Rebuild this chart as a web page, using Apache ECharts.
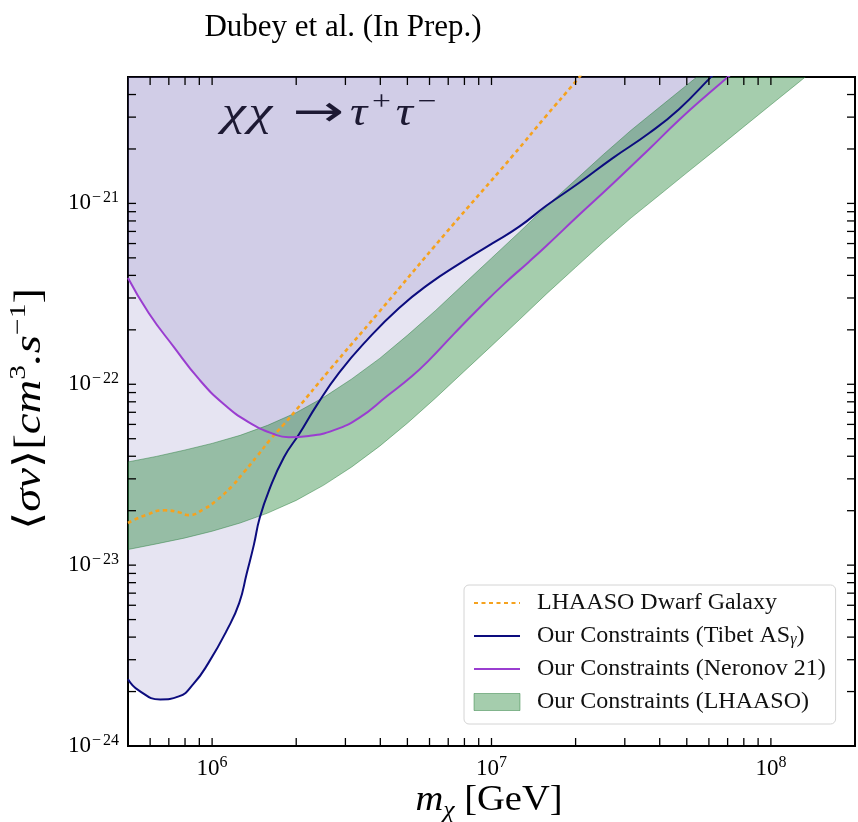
<!DOCTYPE html>
<html>
<head>
<meta charset="utf-8">
<title>Dubey et al. (In Prep.)</title>
<script src="https://cdn.jsdelivr.net/npm/echarts@6.0.0/dist/echarts.min.js"></script>
<style>
  html, body { margin: 0; padding: 0; background: #ffffff; }
  #chart { width: 858px; height: 822px; }
</style>
</head>
<body>
<div id="chart"></div>
<script>
// ---- LHAASO dwarf galaxy limit (dotted orange), <σv> in cm^3/s ----
const dwarfMass  = [5e5, 5.78e5, 6.76e5, 7.6e5, 8.24e5, 9.33e5, 1.04e6, 1.18e6, 1.30e6, 1.45e6, 1.61e6, 1.81e6,
                    2.0e6, 2.62e6, 3.96e6, 6.87e6, 1.19e7, 1.57e7, 2.01e7, 2.15e7];
const dwarfSigma = [1.71e-23, 1.89e-23, 2.01e-23, 1.96e-23, 1.89e-23, 2.04e-23, 2.29e-23, 2.74e-23, 3.27e-23, 4.01e-23, 4.92e-23, 6.03e-23,
                    7.21e-23, 1.19e-22, 2.51e-22, 6.87e-22, 1.83e-21, 3.05e-21, 4.76e-21, 5.42e-21];

// ---- Tibet AS-gamma constraint (navy) ----
const tibetMass  = [5e5, 5.46e5, 6.52e5, 7.6e5, 8.59e5, 9.73e5, 1.13e6, 1.25e6, 1.33e6, 1.41e6, 1.48e6, 1.60e6,
                    1.81e6, 2.05e6, 2.37e6, 2.85e6, 3.59e6, 4.67e6, 5.98e6, 7.66e6, 1.007e7, 1.26e7, 1.57e7,
                    2.06e7, 2.70e7, 3.67e7, 4.70e7, 6.11e7, 6.53e7];
const tibetSigma = [2.34e-24, 2.03e-24, 1.81e-24, 1.88e-24, 2.21e-24, 2.90e-24, 4.37e-24, 6.17e-24, 8.99e-24, 1.29e-23, 1.82e-23, 2.60e-23,
                    3.96e-23, 5.31e-23, 7.67e-23, 1.16e-22, 1.76e-22, 2.64e-22, 3.59e-22, 4.63e-22, 6.01e-22, 7.46e-22, 9.70e-22,
                    1.30e-21, 1.77e-21, 2.45e-21, 3.33e-21, 5.01e-21, 5.56e-21];

// ---- Neronov 21 constraint (purple) ----
const neronovMass  = [5e5, 5.93e5, 7.29e5, 8.96e5, 1.10e6, 1.35e6, 1.66e6, 1.88e6, 2.22e6, 2.73e6, 3.36e6, 4.23e6,
                      5.20e6, 5.98e6, 7.34e6, 9.04e6, 1.11e7, 1.36e7, 1.57e7, 2.06e7, 2.71e7, 3.67e7, 4.70e7,
                      6.03e7, 7.10e7, 7.73e7];
const neronovSigma = [3.87e-22, 2.48e-22, 1.61e-22, 1.07e-22, 7.78e-23, 6.18e-23, 5.31e-23, 5.10e-23, 5.18e-23, 5.58e-23, 6.52e-23, 8.61e-23,
                      1.11e-22, 1.36e-22, 1.90e-22, 2.64e-22, 3.59e-22, 4.75e-22, 5.82e-22, 8.65e-22, 1.28e-21, 2.00e-21, 2.90e-21,
                      4.09e-21, 5.08e-21, 5.70e-21];

// ---- LHAASO band (upper / lower edge) ----
const bandMass    = [5e5, 6.31e5, 7.94e5, 1e6, 1.26e6, 1.58e6, 2e6, 2.51e6, 3.16e6, 3.98e6, 5.01e6, 6.31e6, 7.94e6,
                     1e7, 1.26e7, 1.58e7, 2e7, 2.51e7, 3.16e7, 3.98e7, 5.01e7, 6.31e7, 7.94e7, 1e8, 1.26e8, 1.58e8];
const lhaasoLower = [1.22e-23, 1.31e-23, 1.41e-23, 1.54e-23, 1.71e-23, 1.94e-23, 2.28e-23, 2.77e-23, 3.49e-23, 4.55e-23, 6.11e-23, 8.40e-23, 1.17e-22,
                     1.63e-22, 2.28e-22, 3.18e-22, 4.43e-22, 6.10e-22, 8.32e-22, 1.109e-21, 1.48e-21, 1.97e-21, 2.63e-21, 3.51e-21, 4.68e-21, 6.24e-21];
const lhaasoUpper = [3.72e-23, 3.99e-23, 4.32e-23, 4.71e-23, 5.22e-23, 5.93e-23, 6.97e-23, 8.47e-23, 1.07e-22, 1.39e-22, 1.87e-22, 2.56e-22, 3.57e-22,
                     4.98e-22, 6.95e-22, 9.71e-22, 1.35e-21, 1.86e-21, 2.54e-21, 3.39e-21, 4.52e-21, 6.03e-21];

// ---- axis ranges and tick values ----
const massRange  = [5e5, 2e8];
const sigmaRange = [1e-24, 5e-21];
const xMajorTicks = [1e6, 1e7, 1e8];
const xMinorTicks = [6e5, 7e5, 8e5, 9e5,
                     2e6, 3e6, 4e6, 5e6, 6e6, 7e6, 8e6, 9e6,
                     2e7, 3e7, 4e7, 5e7, 6e7, 7e7, 8e7, 9e7];
const yMajorTicks = [1e-23, 1e-22, 1e-21];
const yMinorTicks = [2e-24, 3e-24, 4e-24, 5e-24, 6e-24, 7e-24, 8e-24, 9e-24,
                     2e-23, 3e-23, 4e-23, 5e-23, 6e-23, 7e-23, 8e-23, 9e-23,
                     2e-22, 3e-22, 4e-22, 5e-22, 6e-22, 7e-22, 8e-22, 9e-22,
                     2e-21, 3e-21, 4e-21];

// The y axis works in units of 1e-24 cm^3/s: ECharts rounds very small
// numbers to zero on log axes, so values are rescaled before plotting.
const SIGMA_UNIT_EXP = -24;
const SIGMA_UNIT = 1e-24;
const toAxis = s => s / SIGMA_UNIT;

const NAME_DWARF   = 'LHAASO Dwarf Galaxy';
const NAME_TIBET   = 'Our Constraints (Tibet ASγ)';
const NAME_NERONOV = 'Our Constraints (Neronov 21)';
const NAME_LHAASO  = 'Our Constraints (LHAASO)';

const SERIF = '"Liberation Serif", "DejaVu Serif", serif';
const LAVENDER = 'rgba(100, 88, 175, 0.16)';
const BAND_FILL = 'rgba(30, 130, 50, 0.40)';
const BAND_EDGE = 'rgba(30, 120, 50, 0.45)';
const TICK_LEN = 8;
const SMOOTH = 0.5;

const pairs = (xs, ys) => ys.map((y, i) => [xs[i], toAxis(y)]);

function powText(e) {
  if (e < 0) return '{b|10}{m|\u2212}{s|' + Math.abs(e) + '}';
  return '{b|10}{s|' + e + '}';
}
const powRich = {
  b: { fontFamily: SERIF, fontSize: 23, lineHeight: 27, color: '#000' },
  m: { fontFamily: SERIF, fontSize: 16, color: '#000', verticalAlign: 'top', padding: [0, 2, 0, 1] },
  s: { fontFamily: SERIF, fontSize: 16, color: '#000', verticalAlign: 'top' }
};

const chart = echarts.init(document.getElementById('chart'), null, { renderer: 'canvas' });

const tickStyle = { stroke: '#000', lineWidth: 1.3 };
const lineLegendStyle = { color: 'rgba(0,0,0,0)', borderWidth: 0, opacity: 0 };

const option = {
  animation: false,
  backgroundColor: '#ffffff',
  grid: {
    left: 128, right: 3, top: 77, bottom: 76,
    show: true, borderColor: '#000', borderWidth: 2, backgroundColor: 'transparent'
  },
  xAxis: {
    type: 'log', logBase: 10, min: massRange[0], max: massRange[1],
    axisLine: { show: false }, axisTick: { show: false }, splitLine: { show: false },
    axisLabel: {
      formatter: v => powText(Math.round(Math.log10(v))),
      rich: powRich, margin: 9, showMinLabel: false, showMaxLabel: false
    }
  },
  yAxis: {
    type: 'log', logBase: 10, min: toAxis(sigmaRange[0]), max: toAxis(sigmaRange[1]),
    axisLine: { show: false }, axisTick: { show: false }, splitLine: { show: false },
    axisLabel: {
      formatter: v => powText(Math.round(Math.log10(v)) + SIGMA_UNIT_EXP),
      rich: powRich, margin: 9, showMinLabel: true, showMaxLabel: false
    }
  },
  legend: {
    orient: 'vertical', left: 464, top: 585,
    padding: [6, 10, 10, 9],
    itemWidth: 46, itemHeight: 17, itemGap: 9,
    selectedMode: false,
    backgroundColor: 'rgba(255,255,255,0.85)',
    borderColor: '#d4d4d4', borderWidth: 1, borderRadius: 5,
    data: [
      { name: NAME_DWARF, itemStyle: lineLegendStyle },
      { name: NAME_TIBET, itemStyle: lineLegendStyle },
      { name: NAME_NERONOV, itemStyle: lineLegendStyle },
      { name: NAME_LHAASO, icon: 'rect',
        itemStyle: { color: BAND_FILL, borderColor: BAND_EDGE, borderWidth: 1 } }
    ],
    formatter: function (name) {
      if (name === NAME_TIBET) return '{t|Our Constraints (Tibet AS}{g|γ}{t|)}';
      return '{t|' + name + '}';
    },
    textStyle: {
      fontFamily: SERIF, fontSize: 24, lineHeight: 24, color: '#111',
      padding: [0, 0, 0, 12],
      rich: {
        t: { fontFamily: SERIF, fontSize: 24, lineHeight: 24, color: '#111' },
        g: { fontFamily: SERIF, fontSize: 16, fontStyle: 'italic', color: '#111', verticalAlign: 'bottom' }
      }
    }
  },
  graphic: [
    {
      type: 'text', silent: true,
      style: { text: 'Dubey et al. (In Prep.)', x: 343, y: 28, align: 'center', verticalAlign: 'middle',
               font: '31px "Liberation Serif", serif', fill: '#000' }
    },
    // process label: χχ → τ+τ−
    {
      type: 'group', silent: true, z: 20,
      children: [
        {
          type: 'text', x: 222, y: 114, scaleX: 1.35,
          style: {
            text: '{i|χ}{i|χ}', x: 0, y: 0, align: 'left', verticalAlign: 'middle',
            rich: { i: { fontFamily: SERIF, fontStyle: 'italic', fontSize: 40, lineHeight: 50, fill: '#000', padding: [0, 2, 0, 0] } }
          }
        },
        {
          type: 'text', x: 318, y: 115, scaleX: 1.4,
          style: { text: '→', x: 0, y: 0, align: 'center', verticalAlign: 'middle',
                   font: '44px "DejaVu Sans", sans-serif', fill: '#000' }
        },
        {
          type: 'text', x: 350, y: 114, scaleX: 1.2,
          style: {
            text: '{t|τ}{s|+}{t|τ}{s|\u2212}', x: 0, y: 0, align: 'left', verticalAlign: 'middle',
            rich: {
              t: { fontFamily: SERIF, fontStyle: 'italic', fontSize: 40, lineHeight: 50, fill: '#000', padding: [0, 2, 0, 0] },
              s: { fontFamily: SERIF, fontSize: 28, fill: '#000', verticalAlign: 'top', padding: [0, 4, 0, 2] }
            }
          }
        }
      ]
    },
    {
      type: 'text', silent: true,
      x: 489, y: 801, scaleX: 1.07,
      style: {
        text: '{i|m}{u|χ}{n| [GeV]}',
        x: 0, y: 0, align: 'center', verticalAlign: 'middle',
        rich: {
          i: { fontFamily: SERIF, fontStyle: 'italic', fontSize: 36, lineHeight: 44, fill: '#000' },
          u: { fontFamily: SERIF, fontStyle: 'italic', fontSize: 24, fill: '#000', verticalAlign: 'bottom' },
          n: { fontFamily: SERIF, fontSize: 36, lineHeight: 44, fill: '#000' }
        }
      }
    },
    {
      type: 'text', silent: true,
      x: 30, y: 409, rotation: Math.PI / 2, scaleX: 1.23,
      style: {
        text: '{n|⟨}{i|σv}{n|⟩[}{i|cm}{s|3}{i|.s}{s|\u22121}{n|]}',
        x: 0, y: 0, align: 'center', verticalAlign: 'middle',
        rich: {
          i: { fontFamily: SERIF, fontStyle: 'italic', fontSize: 38, lineHeight: 46, fill: '#000' },
          n: { fontFamily: SERIF, fontSize: 38, lineHeight: 46, fill: '#000' },
          s: { fontFamily: SERIF, fontSize: 24, fill: '#000', verticalAlign: 'top' }
        }
      }
    }
  ],
  series: [
    // excluded regions above each curve
    {
      name: 'neronov-excluded', type: 'line', z: 1, silent: true,
      data: pairs(neronovMass, neronovSigma), smooth: SMOOTH,
      symbol: 'none', lineStyle: { width: 0, opacity: 0 },
      areaStyle: { color: LAVENDER, origin: 'end', opacity: 1 }
    },
    {
      name: 'tibet-excluded', type: 'line', z: 1, silent: true,
      data: pairs(tibetMass, tibetSigma), smooth: SMOOTH,
      symbol: 'none', lineStyle: { width: 0, opacity: 0 },
      areaStyle: { color: LAVENDER, origin: 'end', opacity: 1 }
    },
    // LHAASO band between the two edges
    {
      name: NAME_LHAASO, type: 'custom', z: 2, silent: true, clip: true,
      itemStyle: { color: BAND_FILL },
      data: [[bandMass[0], toAxis(lhaasoLower[0])]],
      renderItem: function (params, api) {
        const upper = lhaasoUpper.map((y, i) => api.coord([bandMass[i], toAxis(y)]));
        const lower = lhaasoLower.map((y, i) => api.coord([bandMass[i], toAxis(y)])).reverse();
        return {
          type: 'polygon',
          shape: { points: upper.concat(lower) },
          style: { fill: BAND_FILL, stroke: BAND_EDGE, lineWidth: 1 }
        };
      }
    },
    {
      name: NAME_DWARF, type: 'line', z: 3, silent: true,
      data: pairs(dwarfMass, dwarfSigma), smooth: SMOOTH,
      symbol: 'none', showSymbol: false,
      lineStyle: { color: '#f5a21e', width: 2.6, type: [4, 3.5], cap: 'butt' },
      itemStyle: { color: '#f5a21e' }
    },
    {
      name: NAME_TIBET, type: 'line', z: 3, silent: true,
      data: pairs(tibetMass, tibetSigma), smooth: SMOOTH,
      symbol: 'none', showSymbol: false,
      lineStyle: { color: '#0c0c7e', width: 2 },
      itemStyle: { color: '#0c0c7e' }
    },
    {
      name: NAME_NERONOV, type: 'line', z: 3, silent: true,
      data: pairs(neronovMass, neronovSigma), smooth: SMOOTH,
      symbol: 'none', showSymbol: false,
      lineStyle: { color: '#9a3dd0', width: 2 },
      itemStyle: { color: '#9a3dd0' }
    },
    // inward ticks on all four sides
    {
      name: 'x-ticks', type: 'custom', z: 5, silent: true,
      data: xMajorTicks.concat(xMinorTicks).map(v => [v, toAxis(sigmaRange[0])]),
      renderItem: function (params, api) {
        const cs = params.coordSys;
        const x = api.coord([api.value(0), api.value(1)])[0];
        const yb = cs.y + cs.height, yt = cs.y;
        return { type: 'group', children: [
          { type: 'line', shape: { x1: x, y1: yb, x2: x, y2: yb - TICK_LEN }, style: tickStyle },
          { type: 'line', shape: { x1: x, y1: yt, x2: x, y2: yt + TICK_LEN }, style: tickStyle }
        ] };
      }
    },
    {
      name: 'y-ticks', type: 'custom', z: 5, silent: true,
      data: yMajorTicks.concat(yMinorTicks).map(v => [massRange[0], toAxis(v)]),
      renderItem: function (params, api) {
        const cs = params.coordSys;
        const y = api.coord([api.value(0), api.value(1)])[1];
        const xl = cs.x, xr = cs.x + cs.width;
        return { type: 'group', children: [
          { type: 'line', shape: { x1: xl, y1: y, x2: xl + TICK_LEN, y2: y }, style: tickStyle },
          { type: 'line', shape: { x1: xr, y1: y, x2: xr - TICK_LEN, y2: y }, style: tickStyle }
        ] };
      }
    }
  ]
};

chart.setOption(option);
</script>
</body>
</html>
